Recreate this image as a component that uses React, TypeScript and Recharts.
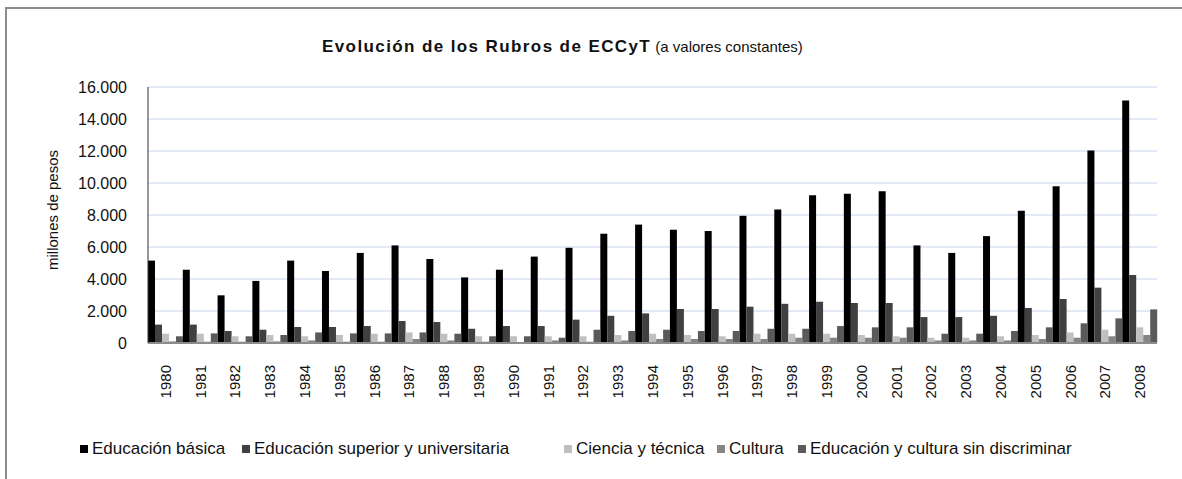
import React from 'react'
import { BarChart, Bar, XAxis, YAxis, CartesianGrid, Legend } from 'recharts'

// años y rubros (millones de pesos, valores constantes)
const years = [
  '1980', '1981', '1982', '1983', '1984', '1985', '1986', '1987', '1988', '1989',
  '1990', '1991', '1992', '1993', '1994', '1995', '1996', '1997', '1998', '1999',
  '2000', '2001', '2002', '2003', '2004', '2005', '2006', '2007', '2008'
]

const basica = [
  5150, 4580, 2980, 3880, 5150, 4500, 5630, 6100, 5250, 4100,
  4580, 5400, 5950, 6830, 7400, 7080, 7000, 7950, 8350, 9230,
  9330, 9480, 6100, 5630, 6680, 8270, 9790, 12030, 15150
]

const superior = [
  1150, 1150, 750, 830, 1000, 1000, 1060, 1375, 1310, 890,
  1060, 1060, 1460, 1700, 1850, 2125, 2125, 2270, 2450, 2580,
  2500, 2500, 1620, 1620, 1700, 2190, 2750, 3460, 4250
]

const ciencia = [
  580, 580, 420, 500, 420, 500, 580, 660, 580, 420,
  420, 420, 420, 500, 580, 500, 420, 580, 580, 580,
  500, 420, 330, 330, 420, 500, 660, 830, 980
]

const cultura = [
  100, 80, 80, 100, 160, 80, 80, 250, 160, 80,
  60, 160, 80, 160, 250, 250, 250, 250, 330, 330,
  330, 330, 160, 160, 160, 250, 330, 420, 500
]

const sinDiscriminar = [
  420, 600, 420, 500, 660, 600, 600, 660, 580, 420,
  420, 330, 830, 750, 830, 750, 750, 890, 890, 1060,
  980, 980, 580, 580, 750, 980, 1230, 1540, 2100
]

const yTicks = [0, 2000, 4000, 6000, 8000, 10000, 12000, 14000, 16000]

const series = [
  { key: 'basica', name: 'Educación básica', color: '#000000' },
  { key: 'superior', name: 'Educación superior y universitaria', color: '#404040' },
  { key: 'ciencia', name: 'Ciencia y técnica', color: '#c0c0c0' },
  { key: 'cultura', name: 'Cultura', color: '#858585' },
  { key: 'sinDiscriminar', name: 'Educación y cultura sin discriminar', color: '#5a5a5a' }
]

const data = years.map((year, i) => ({
  year,
  basica: basica[i],
  superior: superior[i],
  ciencia: ciencia[i],
  cultura: cultura[i],
  sinDiscriminar: sinDiscriminar[i]
}))

const FONT = '"Liberation Sans", Arial, sans-serif'
const legendX = [80, 242, 564, 717, 798]

const formatThousands = (v: number) => String(v).replace(/\B(?=(\d{3})+(?!\d))/g, '.')

const XTick = ({ x, y, payload }: any) => {
  const ty = y + 22
  return (
    <text
      x={x}
      y={ty}
      transform={`rotate(-90 ${x} ${ty})`}
      textAnchor="end"
      dominantBaseline="central"
      fontSize={15}
      fontFamily={FONT}
      fill="#111"
    >
      {payload.value}
    </text>
  )
}

const YLabel = () => (
  <text
    x={52}
    y={210}
    transform="rotate(-90 52 210)"
    textAnchor="middle"
    dominantBaseline="central"
    fontSize={15}
    fontFamily={FONT}
    fill="#111"
  >
    millones de pesos
  </text>
)

const LegendRow = () => (
  <div style={{ position: 'relative', width: 1182, height: 24, fontFamily: FONT }}>
    {series.map((s, i) => (
      <div
        key={s.key}
        style={{ position: 'absolute', left: legendX[i], top: 0, display: 'flex', alignItems: 'center', height: 24, whiteSpace: 'nowrap' }}
      >
        <span style={{ display: 'inline-block', width: 8, height: 8, background: s.color, marginRight: 4 }} />
        <span style={{ fontSize: 17, color: '#111' }}>{s.name}</span>
      </div>
    ))}
  </div>
)

export default function App() {
  return (
    <div style={{ position: 'absolute', left: 0, top: 0, width: 1182, height: 479, background: '#fff', overflow: 'hidden' }}>
      <div style={{ position: 'absolute', left: 5, top: 7, width: 1300, height: 600, borderLeft: '2px solid #8c8c8c', borderTop: '2px solid #8c8c8c' }} />
      <div style={{ position: 'absolute', left: 322, top: 38, whiteSpace: 'nowrap', fontFamily: FONT, lineHeight: 1, color: '#111' }}>
        <span style={{ fontSize: 17, fontWeight: 'bold', letterSpacing: 1.4 }}>Evolución de los Rubros de ECCyT</span>
        <span style={{ fontSize: 15 }}> (a valores constantes)</span>
      </div>
      <div style={{ position: 'absolute', left: 0, top: 0 }}>
        <BarChart
          width={1182}
          height={479}
          data={data}
          margin={{ top: 87, right: 25, left: 0, bottom: 76 }}
          barCategoryGap={0}
          barGap={0}
        >
          <CartesianGrid vertical={false} stroke="#c6d3ef" />
          <XAxis
            dataKey="year"
            interval={0}
            height={60}
            tickSize={0}
            tickMargin={0}
            tickLine={false}
            axisLine={{ stroke: '#8c8c8c', strokeWidth: 2 }}
            tick={<XTick />}
          />
          <YAxis
            width={148}
            domain={[0, 16000]}
            ticks={yTicks}
            tickFormatter={formatThousands}
            tickSize={0}
            tickMargin={21}
            tickLine={false}
            axisLine={{ stroke: '#333' }}
            tick={{ fontSize: 16, fontFamily: FONT, fill: '#111' }}
            label={<YLabel />}
          />
          <YAxis
            yAxisId="frame"
            orientation="right"
            width={0}
            tick={false}
            tickLine={false}
            axisLine={{ stroke: '#9a9a9a' }}
          />
          <Legend
            layout="horizontal"
            verticalAlign="middle"
            align="center"
            wrapperStyle={{ top: 437, left: 0, width: 1182, height: 24 }}
            content={() => <LegendRow />}
          />
          {series.map(s => (
            <Bar key={s.key} dataKey={s.key} name={s.name} fill={s.color} isAnimationActive={false} />
          ))}
        </BarChart>
      </div>
    </div>
  )
}
